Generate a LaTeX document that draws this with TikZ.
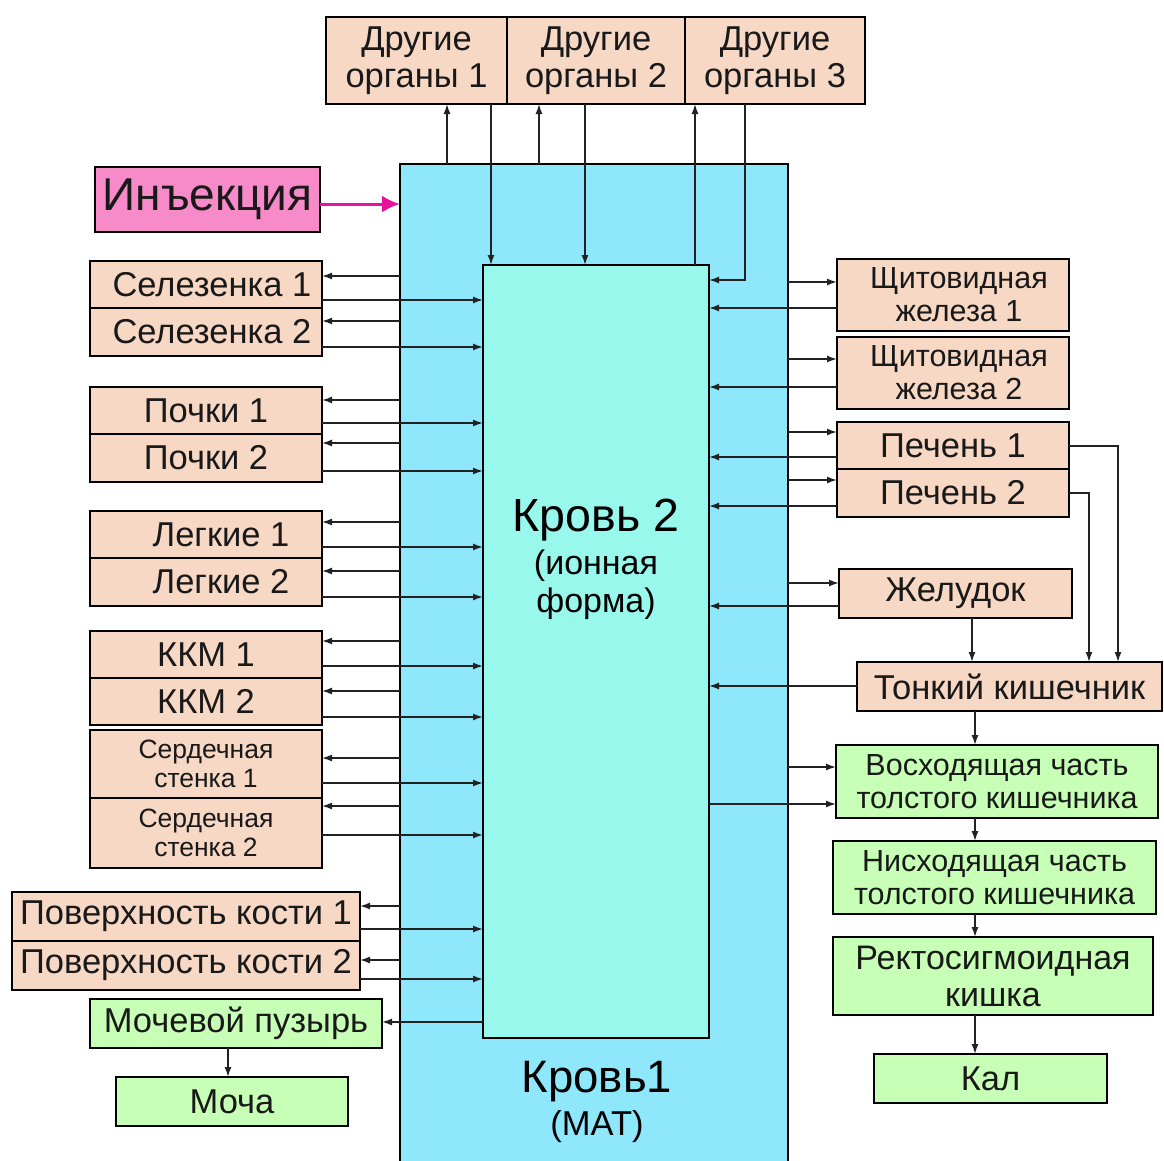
\documentclass[tikz,border=0pt]{standalone}
\usepackage{fontspec}
\setmainfont{Liberation Sans}
\usetikzlibrary{arrows.meta}
\definecolor{peachc}{HTML}{F6D8C5}
\definecolor{greenc}{HTML}{C6FFB5}
\definecolor{bloodA}{HTML}{8EE7FA}
\definecolor{bloodB}{HTML}{99F8EC}
\definecolor{pinkc}{HTML}{F78BC9}
\definecolor{magc}{HTML}{E8129C}
\definecolor{linec}{HTML}{222222}
\begin{document}
\begin{tikzpicture}[x=1pt,y=-1pt,
  box/.style={draw=black, line width=2.8pt, inner sep=0pt, outer sep=0pt, align=center, text=black!90},
  peach/.style={box, fill=peachc},
  greenb/.style={box, fill=greenc},
  fbig/.style={font=\fontsize{34.5}{37}\selectfont},
  fmid/.style={font=\fontsize{30.5}{33}\selectfont},
  fsmall/.style={font=\fontsize{26.5}{29}\selectfont},
  arr/.style={draw=linec, line width=1.5pt, -{Latex[length=10pt,width=7pt]}},
  ln/.style={draw=linec, line width=1.5pt},
]
\useasboundingbox (0,0) rectangle (1164,1160);

% blood compartments
\node[fill=bloodA, inner sep=0pt, outer sep=0pt, minimum width=388pt, minimum height=1001pt] (k1) at (594,664.5) {};
\draw[line width=2.8pt] (k1.south west) -- (k1.north west) -- (k1.north east) -- (k1.south east);
\node[box, fill=bloodB, minimum width=226pt, minimum height=773pt] (k2) at (596,651.5) {};
\node[font=\fontsize{46.5}{50}\selectfont] (k2t) at (596,520) {Кровь 2};
\node[font=\fontsize{34}{37}\selectfont] (k2s1) at (596,566) {(ионная};
\node[font=\fontsize{34}{37}\selectfont] (k2s2) at (596,604) {форма)};
\node[font=\fontsize{45.5}{50}\selectfont] (k1t) at (597,1082) {Кровь1};
\node[font=\fontsize{34.5}{37}\selectfont] (k1s) at (597,1127) {(МАТ)};

% top boxes
\node[peach, fbig, minimum width=181pt, minimum height=87pt] (o1) at (416.5,60.5) {Другие\\органы 1};
\node[peach, fbig, minimum width=178pt, minimum height=87pt] (o2) at (596,60.5) {Другие\\органы 2};
\node[peach, fbig, minimum width=180pt, minimum height=87pt] (o3) at (775,60.5) {Другие\\органы 3};

% injection
\node[box, fill=pinkc, font=\fontsize{46}{50}\selectfont, minimum width=225pt, minimum height=65pt] (inj) at (207.5,199.5) {Инъекция};
\draw[draw=magc, line width=3pt, -{Latex[length=18pt,width=17pt]}] (inj.east |- 0,204) -- (k1.west |- 0,204);

% left boxes
\node[peach, fbig, minimum width=232pt, minimum height=47pt] (sel1) at (206,284.5) {\hspace*{12pt}Селезенка 1};
\node[peach, fbig, minimum width=232pt, minimum height=48pt] (sel2) at (206,332) {\hspace*{12pt}Селезенка 2};
\node[peach, fbig, minimum width=232pt, minimum height=47pt] (poc1) at (206,410.5) {Почки 1};
\node[peach, fbig, minimum width=232pt, minimum height=48pt] (poc2) at (206,458) {Почки 2};
\node[peach, fbig, minimum width=232pt, minimum height=47pt] (leg1) at (206,534.5) {\hspace*{30pt}Легкие 1};
\node[peach, fbig, minimum width=232pt, minimum height=48pt] (leg2) at (206,582) {\hspace*{30pt}Легкие 2};
\node[peach, fbig, minimum width=232pt, minimum height=47pt] (kkm1) at (206,654.5) {ККМ 1};
\node[peach, fbig, minimum width=232pt, minimum height=47pt] (kkm2) at (206,701.5) {ККМ 2};
\node[peach, fsmall, minimum width=232pt, minimum height=68pt] (ser1) at (206,764) {Сердечная\\стенка 1};
\node[peach, fsmall, minimum width=232pt, minimum height=70pt] (ser2) at (206,833) {Сердечная\\стенка 2};
\node[peach, fbig, minimum width=348pt, minimum height=49pt] (pov1) at (186,916.5) {Поверхность кости 1};
\node[peach, fbig, minimum width=348pt, minimum height=49pt] (pov2) at (186,965.5) {Поверхность кости 2};
\node[greenb, fbig, minimum width=292pt, minimum height=49pt] (moch) at (236,1023.5) {Мочевой пузырь};
\node[greenb, fbig, minimum width=232pt, minimum height=49pt] (mocha) at (232,1101.5) {Моча};

% right boxes
\node[peach, fmid, minimum width=232pt, minimum height=72pt] (sh1) at (953,295) {\hspace*{12pt}Щитовидная\\\hspace*{12pt}железа 1};
\node[peach, fmid, minimum width=232pt, minimum height=72pt] (sh2) at (953,373) {\hspace*{12pt}Щитовидная\\\hspace*{12pt}железа 2};
\node[peach, fbig, minimum width=232pt, minimum height=47pt] (pe1) at (953,445.5) {Печень 1};
\node[peach, fbig, minimum width=232pt, minimum height=48pt] (pe2) at (953,493) {Печень 2};
\node[peach, fbig, minimum width=233pt, minimum height=49pt] (zh) at (955.5,593.5) {Желудок};
\node[peach, fbig, minimum width=305pt, minimum height=49pt] (ton) at (1009.5,686.5) {Тонкий кишечник};
\node[greenb, fmid, minimum width=322pt, minimum height=73pt] (vos) at (997,781.5) {Восходящая часть\\толстого кишечника};
\node[greenb, fmid, minimum width=323pt, minimum height=73pt] (nis) at (994.5,877.5) {Нисходящая часть\\толстого кишечника};
\node[greenb, font=\fontsize{34}{37}\selectfont, minimum width=320pt, minimum height=78pt] (rek) at (993,976) {Ректосигмоидная\\кишка};
\node[greenb, fbig, minimum width=233pt, minimum height=49pt] (kal) at (990.5,1078.5) {Кал};

% top connectors
\draw[arr] (k1.north -| 447,0) -- (o1.south -| 447,0);
\draw[arr] (o1.south -| 491,0) -- (k2.north -| 491,0);
\draw[arr] (k1.north -| 539,0) -- (o2.south -| 539,0);
\draw[arr] (o2.south -| 585,0) -- (k2.north -| 585,0);
\draw[arr] (k2.north -| 695,0) -- (o3.south -| 695,0);
\draw[arr] (o3.south -| 745,0) |- (k2.east |- 0,280);

% left connectors
\foreach \b/\ya/\yb in {sel1/276/300, sel2/321/347, poc1/400/423, poc2/443/471, leg1/522/547, leg2/571/597, kkm1/641/666, kkm2/691/717, ser1/758/783, ser2/806/835, pov1/906/929, pov2/960/979}{
  \draw[arr] (k1.west |- 0,\ya) -- (\b.east |- 0,\ya);
  \draw[arr] (\b.east |- 0,\yb) -- (k2.west |- 0,\yb);
}
\draw[arr] (k2.west |- 0,1022) -- (moch.east |- 0,1022);
\draw[arr] (moch.south -| 228,0) -- (mocha.north -| 228,0);

% right connectors
\foreach \b/\ya/\yb in {sh1/282/308, sh2/359/387, pe1/432/457, pe2/480/506, zh/583/606}{
  \draw[arr] (k1.east |- 0,\ya) -- (\b.west |- 0,\ya);
  \draw[arr] (\b.west |- 0,\yb) -- (k2.east |- 0,\yb);
}
\draw[arr] (ton.west |- 0,686) -- (k2.east |- 0,686);
\draw[arr] (k1.east |- 0,767) -- (vos.west |- 0,767);
\draw[arr] (k2.east |- 0,804) -- (vos.west |- 0,804);
\draw[arr] (pe1.east |- 0,446) -| (ton.north -| 1118,0);
\draw[arr] (pe2.east |- 0,493) -| (ton.north -| 1089,0);
\draw[arr] (zh.south -| 972,0) -- (ton.north -| 972,0);
\draw[arr] (ton.south -| 975,0) -- (vos.north -| 975,0);
\draw[arr] (vos.south -| 975,0) -- (nis.north -| 975,0);
\draw[arr] (nis.south -| 975,0) -- (rek.north -| 975,0);
\draw[arr] (rek.south -| 975,0) -- (kal.north -| 975,0);
\end{tikzpicture}
\end{document}
